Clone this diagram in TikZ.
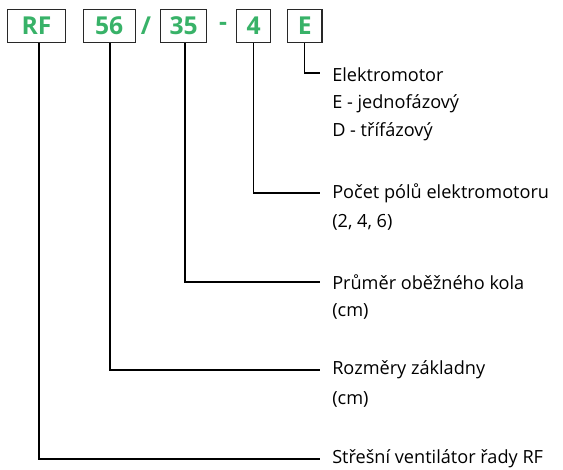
\documentclass[tikz,border=0pt]{standalone}
\usepackage{fontspec}
\setmainfont{Open Sans}
\definecolor{codegreen}{RGB}{56,178,104}
\definecolor{linegray}{RGB}{40,40,40}
\begin{document}
\begin{tikzpicture}[x=0.75pt,y=-0.75pt,
  codebox/.style={draw=linegray,line width=1pt,minimum height=25pt,inner sep=0pt,text=codegreen,font=\fontsize{18.5}{18.5}\selectfont\bfseries},
  sep/.style={text=codegreen,font=\fontsize{18.5}{18.5}\selectfont\bfseries,inner sep=0pt},
  lead/.style={draw=black,line width=0.9pt},
  desc/.style={anchor=west,inner sep=0pt,font=\fontsize{13.6}{22}\selectfont,align=left}]
\useasboundingbox (0,0) rectangle (563,470);
\node[codebox,minimum width=43.5pt] (rf) at (36.5,26) {RF};
\node[codebox,minimum width=39pt] (b56) at (109.2,26) {56};
\node[sep] (slash) at (146,26) {/};
\node[codebox,minimum width=34.5pt] (b35) at (183.7,26) {35};
\node[sep] (dash) at (223,26.5) {-};
\node[codebox,minimum width=25.5pt] (b4) at (253.7,26) {4};
\node[codebox,minimum width=26pt] (be) at (304.7,26) {E};
% descriptions
\node[desc] (te) at (332,75) {Elektromotor};
\node[desc] (te2) at (332,104) {E - jednofázový};
\node[desc] (te3) at (332,132) {D - třífázový};
\node[desc] (t4) at (332,193) {Počet pólů elektromotoru};
\node[desc] (t4b) at (332,222) {(2, 4, 6)};
\node[desc] (t35) at (332,282) {Průměr oběžného kola};
\node[desc] (t35b) at (332,311) {(cm)};
\node[desc] (t56) at (332,370) {Rozměry základny};
\node[desc] (t56b) at (332,399) {(cm)};
\node[desc] (trf) at (332,459) {Střešní ventilátor řady RF};
% leaders
\coordinate (ee) at (320,73);
\coordinate (e4) at (320,193);
\coordinate (e35) at (320,282);
\coordinate (e56) at (320,370);
\coordinate (erf) at (320,459);
\draw[lead] (be.south) |- (ee);
\draw[lead] (b4.south) |- (e4);
\draw[lead] ([xshift=1]b35.south) |- (e35);
\draw[lead] ([xshift=0.6]b56.south) |- (e56);
\draw[lead] ([xshift=1.9]rf.south) |- (erf);
\end{tikzpicture}
\end{document}
